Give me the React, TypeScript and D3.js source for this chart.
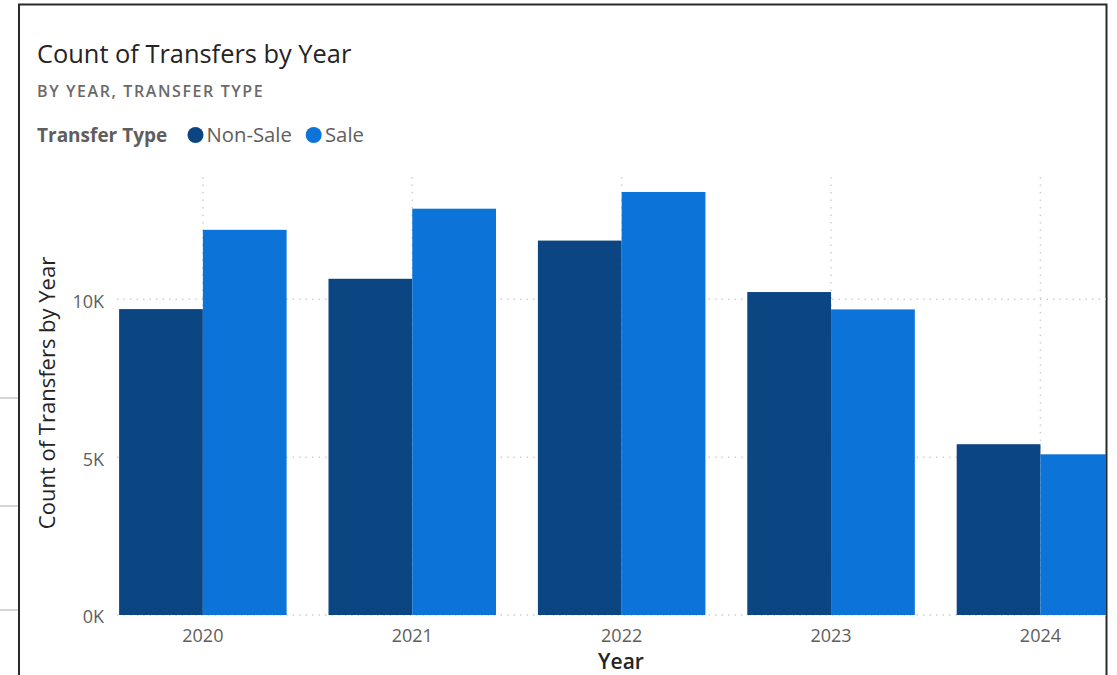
import React from 'react';
import * as d3 from 'd3';

const years = ['2020', '2021', '2022', '2023', '2024'];
const seriesNames = ['Non-Sale', 'Sale'];
const nonSale = [9690, 10650, 11860, 10230, 5410];
const sale = [12200, 12870, 13400, 9680, 5090];
const yTicks = [0, 5000, 10000];

const W = 1117;
const H = 675;
const FONT = "'Segoe UI', 'Open Sans', sans-serif";
const colors = ['#0B4683', '#0C73D9'];

export default function App() {
  const plotTop = 177;
  const plotBottom = 615;
  const plotLeft = 117;
  const frameRight = 1106;

  const y = d3.scaleLinear().domain([0, 13874]).range([plotBottom, plotTop]);
  const step = 209.4;
  const x = d3
    .scaleBand<string>()
    .domain(years)
    .range([plotLeft, plotLeft + step * (years.length - 0.2 + 0.02)])
    .paddingInner(0.2)
    .paddingOuter(0.01);
  const xs = d3.scaleBand<string>().domain(seriesNames).range([0, x.bandwidth()]);
  const data = [nonSale, sale];

  return (
    <svg width={W} height={H} style={{ position: 'absolute', left: 0, top: 0, background: '#fff' }} fontFamily={FONT}>
      <defs>
        <clipPath id="plotclip">
          <rect x={0} y={0} width={frameRight} height={H} />
        </clipPath>
      </defs>
      {/* outside lines at left */}
      {[398, 506, 610].map((yy) => (
        <line key={yy} x1={0} x2={18} y1={yy} y2={yy} stroke="#c8c8c8" strokeWidth={1.5} />
      ))}
      {/* frame */}
      <rect x={19} y={4.5} width={1087.5} height={720} fill="#fff" stroke="#2a2a2a" strokeWidth={2} />

      {/* title */}
      <text x={37} y={62.5} fontSize={25.4} fill="#252423">Count of Transfers by Year</text>
      <text x={37} y={97} fontSize={16} fontWeight={600} fill="#6b6967" letterSpacing={1.6}>BY YEAR, TRANSFER TYPE</text>

      {/* legend */}
      <text x={37} y={142} fontSize={19} fontWeight={700} fill="#605E5C">Transfer Type</text>
      <circle cx={195.5} cy={135} r={8} fill={colors[0]} />
      <text x={206.5} y={142} fontSize={20.3} fill="#605E5C">Non-Sale</text>
      <circle cx={313.7} cy={135} r={8} fill={colors[1]} />
      <text x={325} y={142} fontSize={20.3} fill="#605E5C">Sale</text>

      <g clipPath="url(#plotclip)">
        {/* horizontal gridlines */}
        {yTicks.map((t) => (
          <line key={t} x1={plotLeft} x2={frameRight} y1={y(t)} y2={y(t)} stroke="#d2d0ce" strokeWidth={1.5} strokeDasharray="1.5 5" />
        ))}
        {/* vertical gridlines */}
        {years.map((yr) => (
          <line key={yr} x1={x(yr)! + x.bandwidth() / 2} x2={x(yr)! + x.bandwidth() / 2} y1={plotTop} y2={plotBottom} stroke="#d2d0ce" strokeWidth={1.5} strokeDasharray="1.5 6" />
        ))}
        {/* bars */}
        {years.map((yr, i) => (
          <g key={yr}>
            {seriesNames.map((s, j) => (
              <rect
                key={s}
                x={x(yr)! + xs(s)!}
                y={y(data[j][i])}
                width={xs.bandwidth()}
                height={y(0) - y(data[j][i])}
                fill={colors[j]}
              />
            ))}
          </g>
        ))}
      </g>

      {/* y ticks */}
      {yTicks.map((t) => (
        <text key={t} x={104} y={y(t) + 8.4} fontSize={18} fill="#605E5C" textAnchor="end">
          {`${t / 1000}K`}
        </text>
      ))}
      {/* x ticks */}
      {years.map((yr) => (
        <text key={yr} x={x(yr)! + x.bandwidth() / 2} y={642} fontSize={18} fill="#605E5C" textAnchor="middle">
          {yr}
        </text>
      ))}
      {/* axis titles */}
      <text x={621} y={669} fontSize={21} fontWeight={600} fill="#252423" textAnchor="middle">Year</text>
      <text transform="translate(54.5,393) rotate(-90)" fontSize={22} fill="#252423" textAnchor="middle">
        Count of Transfers by Year
      </text>
    </svg>
  );
}
